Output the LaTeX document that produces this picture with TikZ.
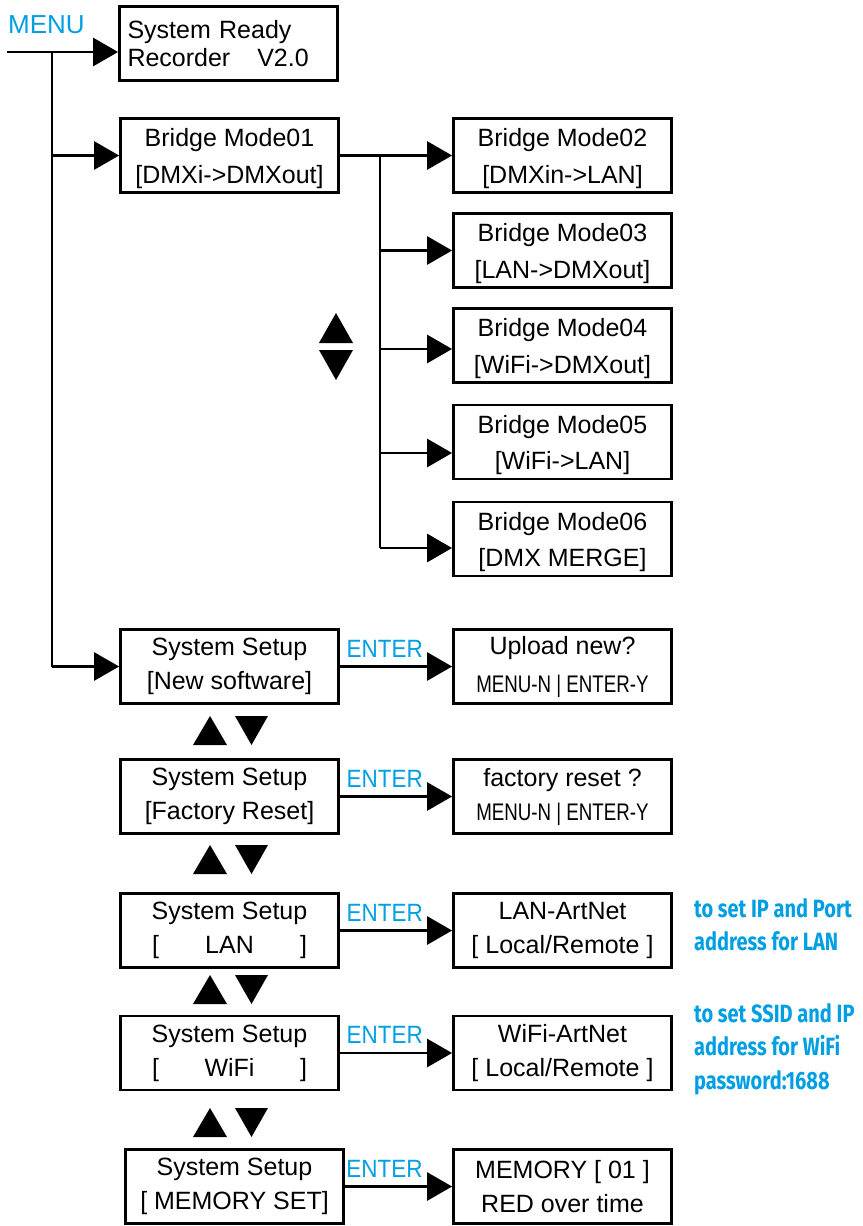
\documentclass[tikz,border=0pt]{standalone}
\usepackage{fontspec}
\setmainfont{Liberation Sans}
\newfontfamily\narrowfont[FakeStretch=0.78]{Liberation Sans}
\newfontfamily\enterfont[FakeStretch=0.9]{Liberation Sans}
\newfontfamily\notefont[FakeStretch=0.8]{Fira Sans}
\usepackage{tikz}
\usetikzlibrary{arrows.meta}
\definecolor{menublue}{RGB}{0,159,227}
\tikzset{
 wire/.style={line width=2.8pt},
 flow/.style={wire, -{Triangle[length=25pt,width=28pt]}},
 lcd/.style={draw, line width=2.8pt, minimum width=218pt, minimum height=74pt,
  align=center, inner sep=0pt, font=\fontsize{25pt}{34pt}\selectfont},
 bridge/.style={lcd, font=\fontsize{25pt}{36.5pt}\selectfont},
 enterlbl/.style={text=menublue, inner sep=0pt, above=8pt,
  font=\enterfont\fontsize{25pt}{30pt}\selectfont},
 note/.style={text=menublue, align=left, anchor=north west, inner sep=0pt,
  font=\notefont\bfseries\fontsize{25pt}{33.5pt}\selectfont}
}
\newcommand{\yn}{{\narrowfont\fontsize{24pt}{28pt}\selectfont MENU-N | ENTER-Y}}
\newcommand{\brk}[1]{\makebox[155pt]{[\hfill #1\hfill]}}
\newcommand{\tp}{\rule{0pt}{24pt}}

\begin{document}
\begin{tikzpicture}[x=1pt,y=-1pt]
\useasboundingbox (0,0) rectangle (862,1226);
\node[text=menublue, anchor=base west, inner sep=0pt, font=\fontsize{26pt}{30pt}\selectfont] (menu) at (8,33) {MENU};

\node[lcd, align=left, text width=202pt, font=\fontsize{25pt}{28pt}\selectfont] (ready) at (228.5,43.5) {System Ready\\Recorder\hspace{27pt}V2.0};
\node[bridge] (bm01) at (229.5,155.5) {\tp Bridge Mode01\\{[DMXi->DMXout]}};
\node[bridge] (bm02) at (562.5,155.5) {\tp Bridge Mode02\\{[DMXin->LAN]}};
\node[bridge] (bm03) at (562.5,250.5) {\tp Bridge Mode03\\{[LAN->DMXout]}};
\node[bridge] (bm04) at (562.5,345.5) {\tp Bridge Mode04\\{[WiFi->DMXout]}};
\node[bridge] (bm05) at (562.5,442) {\tp Bridge Mode05\\{[WiFi->LAN]}};
\node[bridge] (bm06) at (562.5,539) {\tp Bridge Mode06\\{[DMX MERGE]}};

\node[lcd] (setup1) at (229.5,666.5) {System Setup\\{[New software]}};
\node[lcd] (setup2) at (229.5,796.5) {System Setup\\{[Factory Reset]}};
\node[lcd] (setup3) at (229.5,930.5) {System Setup\\\brk{LAN}};
\node[lcd] (setup4) at (229.5,1053) {System Setup\\\brk{WiFi}};
\node[lcd] (setup5) at (234.5,1186.5) {System Setup\\{[ MEMORY SET]}};

\node[lcd] (upload) at (562.5,666.5) {Upload new?\\[4pt]\yn};
\node[lcd] (freset) at (562.5,796.5) {factory reset ?\\\yn};
\node[lcd] (lanart) at (562.5,930.5) {LAN-ArtNet\\{[ Local/Remote ]}};
\node[lcd] (wifiart) at (562.5,1053) {WiFi-ArtNet\\{[ Local/Remote ]}};
\node[lcd] (mem01) at (562.5,1186.5) {MEMORY [ 01 ]\\RED over time};

\node[note] (lannote) at (694,898) {to set IP and Port\\address for LAN};
\node[note] (wifinote) at (694,1003) {to set SSID and IP\\address for WiFi\\password:1688};

\coordinate (m0) at (7,52);
\coordinate (t0) at (52,52);
\coordinate (t1) at (52,155.5);
\coordinate (t2) at (52,666.5);
\draw[flow] (m0) -- (m0 -| ready.west);
\draw[wire] (t0) -- (t2);
\draw[flow] (t1) -- (bm01.west);
\draw[flow] (t2) -- (setup1.west);

\coordinate (b1) at (380,155.5);
\coordinate (b2) at (380,250.5);
\coordinate (b3) at (380,349);
\coordinate (b4) at (380,453);
\coordinate (b5) at (380,548);
\draw[wire] (bm01.east) -- (b1) -- (b5);
\draw[flow] (b1) -- (bm02.west);
\draw[flow] (b2) -- (bm03.west);
\draw[flow] (b3) -- (b3 -| bm04.west);
\draw[flow] (b4) -- (b4 -| bm05.west);
\draw[flow] (b5) -- (b5 -| bm06.west);

\draw[flow] (setup1.east) -- node[enterlbl, pos=.4]{ENTER} (upload.west);
\draw[flow] (setup2.east) -- node[enterlbl, pos=.4]{ENTER} (freset.west);
\draw[flow] (setup3.east) -- node[enterlbl, pos=.4]{ENTER} (lanart.west);
\draw[flow] (setup4.east) -- node[enterlbl, pos=.4]{ENTER} (wifiart.west);
\draw[flow] (setup5.east) -- node[enterlbl, pos=.37]{ENTER} (mem01.west);

\fill (319,343) -- (353,343) -- (336,313) -- cycle;
\fill (319,350) -- (353,350) -- (336,380) -- cycle;
\foreach \y in {716,845,975,1108} {
 \fill (193,\y+29) -- (227,\y+29) -- (210,\y) -- cycle;
 \fill (235,\y) -- (268,\y) -- (251.5,\y+29) -- cycle;
}
\end{tikzpicture}
\end{document}
